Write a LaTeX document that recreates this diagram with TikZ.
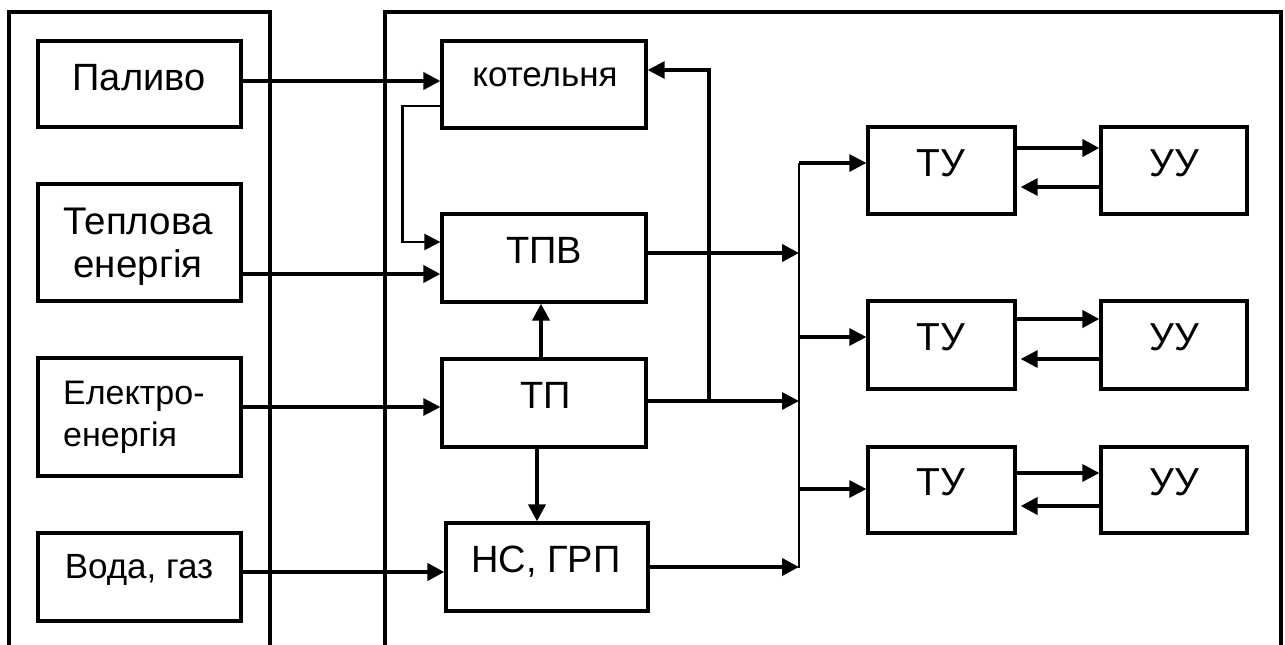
\documentclass[tikz,border=0pt]{standalone}
\usepackage{fontspec}
\setmainfont{Liberation Sans}
\usetikzlibrary{arrows.meta}
\tikzset{
  frame/.style={line width=4.2pt, line join=miter},
  box/.style={draw, line width=3.3pt, inner sep=0pt},
  arr/.style={-{Triangle[length=17pt,width=17pt]}, line width=4pt},
  midarr/.style={-{Triangle[length=17pt,width=17pt]}, line width=3.2pt},
  thinarr/.style={-{Triangle[length=16pt,width=16pt]}, line width=2.5pt},
  busline/.style={line width=2.8pt},
  txt/.style={inner sep=0pt, anchor=base, font=\fontsize{38}{45}\selectfont},
  txtl/.style={inner sep=0pt, anchor=base west, font=\fontsize{34}{40}\selectfont},
  tutxt/.style={txt, font=\fontsize{39}{46}\selectfont}
}
\begin{document}
\begin{tikzpicture}[x=1pt,y=-1pt]
\useasboundingbox (0,0) rectangle (1285,645);
\fill[white] (0,0) rectangle (1285,645);
% frames
\draw[frame] (9,650) -- (9,12) -- (270,12) -- (270,650);
\draw[frame] (385,650) -- (385,12) -- (1281,12) -- (1281,650);
% left boxes
\node[box, minimum width=203pt, minimum height=86pt] (pal) at (139.5,84) {};
\node[box, minimum width=203pt, minimum height=117pt] (tep) at (139.5,242.5) {};
\node[box, minimum width=203pt, minimum height=118pt] (ele) at (139.5,417) {};
\node[box, minimum width=203pt, minimum height=88pt] (vod) at (139.5,577) {};
% middle boxes
\node[box, minimum width=204pt, minimum height=87pt] (kot) at (544,84.5) {};
\node[box, minimum width=204pt, minimum height=88pt] (tpv) at (544,258) {};
\node[box, minimum width=204pt, minimum height=88pt] (tp) at (544,403) {};
\node[box, minimum width=202pt, minimum height=88pt] (ns) at (547,567) {};
% right boxes
\node[box, minimum width=147pt, minimum height=87pt] (tu1) at (941.5,170.5) {};
\node[box, minimum width=146pt, minimum height=87pt] (uu1) at (1174,170.5) {};
\node[box, minimum width=147pt, minimum height=88pt] (tu2) at (941.5,345) {};
\node[box, minimum width=146pt, minimum height=88pt] (uu2) at (1174,345) {};
\node[box, minimum width=147pt, minimum height=86pt] (tu3) at (941.5,490) {};
\node[box, minimum width=146pt, minimum height=86pt] (uu3) at (1174,490) {};
% texts
\node[txt] (tpal) at (139,90) {Паливо};
\node[txt, font=\fontsize{38.5}{45}\selectfont] (ttep1) at (138,234) {Теплова};
\node[txt, font=\fontsize{38.5}{45}\selectfont] (ttep2) at (138,277) {енергія};
\node[txtl] (tele1) at (63,404) {Електро-};
\node[txtl] (tele2) at (63,446) {енергія};
\node[txt, font=\fontsize{35}{42}\selectfont] (tvod) at (139,578) {Вода, газ};
\node[txt, font=\fontsize{35}{42}\selectfont] (tkot) at (545,86) {котельня};
\node[txt] (ttpv) at (544,263) {ТПВ};
\node[txt] (ttp) at (546,408) {ТП};
\node[txt] (tns) at (546,572) {НС, ГРП};
\node[tutxt] (ttu1) at (941,176) {ТУ};
\node[tutxt] (tuu1) at (1174,176) {УУ};
\node[tutxt] (ttu2) at (941,350) {ТУ};
\node[tutxt] (tuu2) at (1174,350) {УУ};
\node[tutxt] (ttu3) at (941,495) {ТУ};
\node[tutxt] (tuu3) at (1174,495) {УУ};
% coordinates
\coordinate (bustop) at (799,163);
\coordinate (busbot) at (799,568);
\coordinate (fbx) at (709,0);
% inputs
\draw[arr] ([yshift=3pt]pal.east) -- ([yshift=3.5pt]kot.west);
\draw[arr] ([yshift=-31.5pt]tep.east) -- ([yshift=-16pt]tpv.west);
\draw[midarr] ([yshift=10pt]ele.east) -- ([yshift=-4pt]tp.west);
\draw[arr] ([yshift=5pt]vod.east) -- ([yshift=-5pt]ns.west);
% kotelnya -> TPV
\draw[thinarr] ([yshift=-21.5pt]kot.west) -- ++(-38,0) |- ([yshift=16pt]tpv.west);
% TP -> TPV, TP -> NS
\draw[arr] ([xshift=-3pt]tp.north) -- ([xshift=-3pt]tpv.south);
\draw[arr] ([xshift=-7pt]tp.south) -- ([xshift=-10pt]ns.north);
% outputs to bus
\coordinate (tpvo) at ([yshift=5pt]tpv.east);
\coordinate (tpo) at ([yshift=2pt]tp.east);
\coordinate (nso) at (ns.east);
\draw[arr] (tpvo) -- (tpvo -| bustop);
\draw[midarr] (tpo) -- (tpo -| bustop);
\draw[arr] (nso) -- (nso -| bustop);
\draw[midarr] (tpo -| fbx) |- ([yshift=14.5pt]kot.east);
\draw[busline] (bustop) -- (busbot);
% bus -> TU
\coordinate (t1i) at ([yshift=7.5pt]tu1.west);
\coordinate (t2i) at ([yshift=8pt]tu2.west);
\coordinate (t3i) at ([yshift=1pt]tu3.west);
\draw[midarr] (t1i -| bustop) -- (t1i);
\draw[midarr] (t2i -| bustop) -- (t2i);
\draw[midarr] (t3i -| bustop) -- (t3i);
% TU <-> UU
\draw[arr] ([yshift=22.5pt]tu1.east) -- ([yshift=22.5pt]uu1.west);
\draw[midarr, shorten >=4pt] ([yshift=-16.5pt]uu1.west) -- ([yshift=-16.5pt]tu1.east);
\draw[arr] ([yshift=26pt]tu2.east) -- ([yshift=26pt]uu2.west);
\draw[midarr, shorten >=4pt] ([yshift=-14pt]uu2.west) -- ([yshift=-14pt]tu2.east);
\draw[midarr] ([yshift=17pt]tu3.east) -- ([yshift=17pt]uu3.west);
\draw[arr, shorten >=4pt] ([yshift=-16pt]uu3.west) -- ([yshift=-16pt]tu3.east);
\end{tikzpicture}
\end{document}
